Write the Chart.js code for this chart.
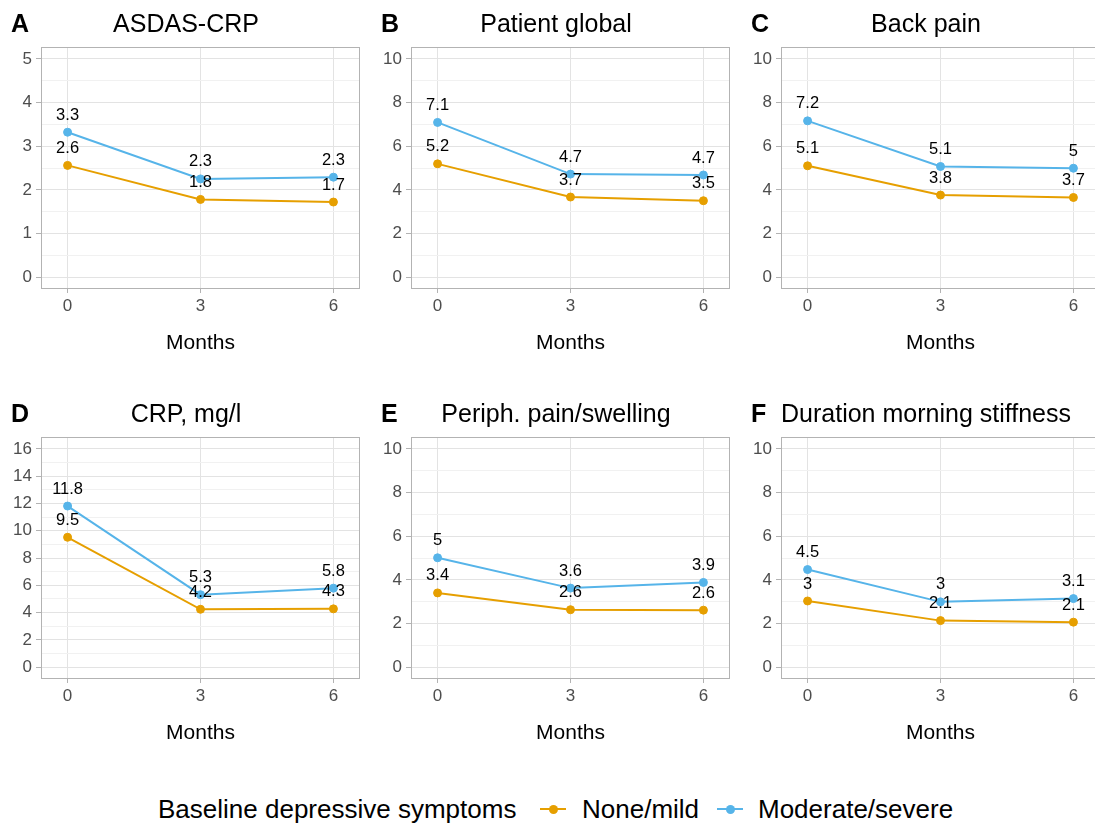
<!DOCTYPE html>
<html>
<head>
<meta charset="utf-8">
<script src="https://cdn.jsdelivr.net/npm/chart.js@4"></script>
<style>
  html, body { margin: 0; padding: 0; background: #fff; overflow: hidden; width: 1095px; height: 823px; position: relative; }
  .cell { position: absolute; width: 370px; height: 390px; }
  .cell canvas { display: block; }
  .lg { position: absolute; font-family: "Liberation Sans", Arial, sans-serif; font-size: 26px; line-height: 30px; color: #000; white-space: nowrap; top: 794px; }
  .key-line { position: absolute; height: 2px; top: 808px; width: 26px; }
  .key-dot { position: absolute; width: 9px; height: 9px; border-radius: 50%; top: 804.5px; }
</style>
</head>
<body>
<div class="cell" style="left:0px;top:0px"><canvas id="c0" width="370" height="390"></canvas></div>
<div class="cell" style="left:370px;top:0px"><canvas id="c1" width="370" height="390"></canvas></div>
<div class="cell" style="left:740px;top:0px"><canvas id="c2" width="370" height="390"></canvas></div>
<div class="cell" style="left:0px;top:390px"><canvas id="c3" width="370" height="390"></canvas></div>
<div class="cell" style="left:370px;top:390px"><canvas id="c4" width="370" height="390"></canvas></div>
<div class="cell" style="left:740px;top:390px"><canvas id="c5" width="370" height="390"></canvas></div>

<div class="lg" style="left:158px">Baseline depressive symptoms</div>
<div class="key-line" style="left:540px;background:#E69F00"></div>
<div class="key-dot" style="left:548.5px;background:#E69F00"></div>
<div class="lg" style="left:582px">None/mild</div>
<div class="key-line" style="left:717px;background:#56B4E9"></div>
<div class="key-dot" style="left:725.5px;background:#56B4E9"></div>
<div class="lg" style="left:758px">Moderate/severe</div>

<script>
// ---------- data ----------
const months = [0, 3, 6];
const seriesNames = ['None/mild', 'Moderate/severe'];
const panelLetters = ['A', 'B', 'C', 'D', 'E', 'F'];
const panelTitles = ['ASDAS-CRP', 'Patient global', 'Back pain', 'CRP, mg/l', 'Periph. pain/swelling', 'Duration morning stiffness'];

const asdasNone   = [2.56, 1.78, 1.72];
const asdasMod    = [3.32, 2.25, 2.29];
const globalNone  = [5.19, 3.67, 3.50];
const globalMod   = [7.09, 4.72, 4.68];
const backNone    = [5.10, 3.76, 3.65];
const backMod     = [7.16, 5.07, 4.99];
const crpNone     = [9.52, 4.24, 4.27];
const crpMod      = [11.81, 5.31, 5.79];
const periphNone  = [3.40, 2.63, 2.61];
const periphMod   = [5.01, 3.62, 3.88];
const stiffNone   = [3.03, 2.13, 2.06];
const stiffMod    = [4.47, 2.99, 3.14];

const yTicksASDAS = [0, 1, 2, 3, 4, 5];
const yTicks10    = [0, 2, 4, 6, 8, 10];
const yTicksCRP   = [0, 2, 4, 6, 8, 10, 12, 14, 16];
const xTicks      = [0, 3, 6];

const panelNone  = [asdasNone, globalNone, backNone, crpNone, periphNone, stiffNone];
const panelMod   = [asdasMod, globalMod, backMod, crpMod, periphMod, stiffMod];
const panelTicks = [yTicksASDAS, yTicks10, yTicks10, yTicksCRP, yTicks10, yTicks10];

// ---------- style ----------
const FONT = "'Liberation Sans', Arial, sans-serif";
const ORANGE = '#E69F00';
const BLUE = '#56B4E9';
Chart.defaults.font.family = FONT;

function fmt(v) { return String(Math.round(v * 10) / 10); }

const valueLabels = {
  id: 'valueLabels',
  afterDatasetsDraw(chart) {
    const ctx = chart.ctx;
    ctx.save();
    ctx.font = '16.5px ' + FONT;
    ctx.fillStyle = '#000';
    ctx.textAlign = 'center';
    ctx.textBaseline = 'middle';
    chart.data.datasets.forEach((ds, i) => {
      const meta = chart.getDatasetMeta(i);
      meta.data.forEach((pt, j) => {
        ctx.fillText(fmt(ds.data[j].y), pt.x, pt.y - 17);
      });
    });
    ctx.restore();
  }
};

const panelDecor = {
  id: 'panelDecor',
  beforeDatasetsDraw(chart) {
    const { ctx, chartArea: a } = chart;
    ctx.save();
    ctx.strokeStyle = '#B3B3B3';
    ctx.lineWidth = 1;
    ctx.strokeRect(Math.round(a.left) + 0.5, Math.round(a.top) - 0.5,
                   Math.round(a.right - a.left) - 1, Math.round(a.bottom - a.top) + 1);
    ctx.restore();
  },
  afterDraw(chart, args, opts) {
    const ctx = chart.ctx;
    ctx.save();
    ctx.fillStyle = '#000';
    ctx.textBaseline = 'middle';
    ctx.font = 'bold 25px ' + FONT;
    ctx.textAlign = 'left';
    ctx.fillText(opts.letter, 11, 25);
    ctx.font = '25px ' + FONT;
    ctx.textAlign = 'center';
    ctx.fillText(opts.title, 186, 25);
    ctx.restore();
  }
};

function makeChart(idx) {
  const majors = panelTicks[idx];
  const top = majors[majors.length - 1];
  const step = majors[1] - majors[0];
  const all = [];
  majors.forEach((m, k) => {
    all.push(m);
    if (k < majors.length - 1) all.push(m + step / 2);
  });
  const isMajor = v => majors.includes(v);

  new Chart(document.getElementById('c' + idx), {
    type: 'line',
    data: {
      datasets: [
        {
          label: seriesNames[0],
          data: months.map((m, i) => ({ x: m, y: panelNone[idx][i] })),
          borderColor: ORANGE, backgroundColor: ORANGE,
          pointBackgroundColor: ORANGE, pointBorderColor: ORANGE,
          borderWidth: 2, pointRadius: 4, pointBorderWidth: 1,
          tension: 0, order: 2
        },
        {
          label: seriesNames[1],
          data: months.map((m, i) => ({ x: m, y: panelMod[idx][i] })),
          borderColor: BLUE, backgroundColor: BLUE,
          pointBackgroundColor: BLUE, pointBorderColor: BLUE,
          borderWidth: 2, pointRadius: 4, pointBorderWidth: 1,
          tension: 0, order: 1
        }
      ]
    },
    options: {
      responsive: false,
      animation: false,
      events: [],
      layout: { padding: { left: 0, right: 10, top: 48, bottom: 0 } },
      plugins: {
        legend: { display: false },
        tooltip: { enabled: false },
        title: { display: false },
        panelDecor: { letter: panelLetters[idx], title: panelTitles[idx] }
      },
      scales: {
        x: {
          type: 'linear',
          min: -0.6, max: 6.6,
          afterBuildTicks: ax => { ax.ticks = xTicks.map(v => ({ value: v })); },
          afterFit: ax => { ax.height = 102; },
          border: { display: false },
          grid: { color: '#E3E3E3', lineWidth: 1, tickColor: '#B3B3B3', tickLength: 5, drawTicks: true },
          ticks: { autoSkip: false, maxRotation: 0, font: { size: 17 }, color: '#4D4D4D', padding: 3.5 },
          title: { display: true, text: 'Months', font: { size: 21 }, color: '#000', padding: { top: 0, bottom: 34 } }
        },
        y: {
          type: 'linear',
          min: -0.05 * top, max: 1.05 * top,
          afterBuildTicks: ax => { ax.ticks = all.map(v => ({ value: v })); },
          afterFit: ax => { ax.width = 41; },
          border: { display: false },
          grid: {
            color: c => (c.tick && isMajor(c.tick.value)) ? '#E3E3E3' : '#F1F1F1',
            lineWidth: 1,
            tickColor: c => (c.tick && isMajor(c.tick.value)) ? '#B3B3B3' : 'rgba(0,0,0,0)',
            tickLength: 5, drawTicks: true
          },
          ticks: {
            autoSkip: false,
            font: { size: 17 }, color: '#4D4D4D', padding: 4,
            callback: v => isMajor(v) ? String(v) : ''
          }
        }
      }
    },
    plugins: [panelDecor, valueLabels]
  });
}

for (let i = 0; i < 6; i++) makeChart(i);
</script>
</body>
</html>
